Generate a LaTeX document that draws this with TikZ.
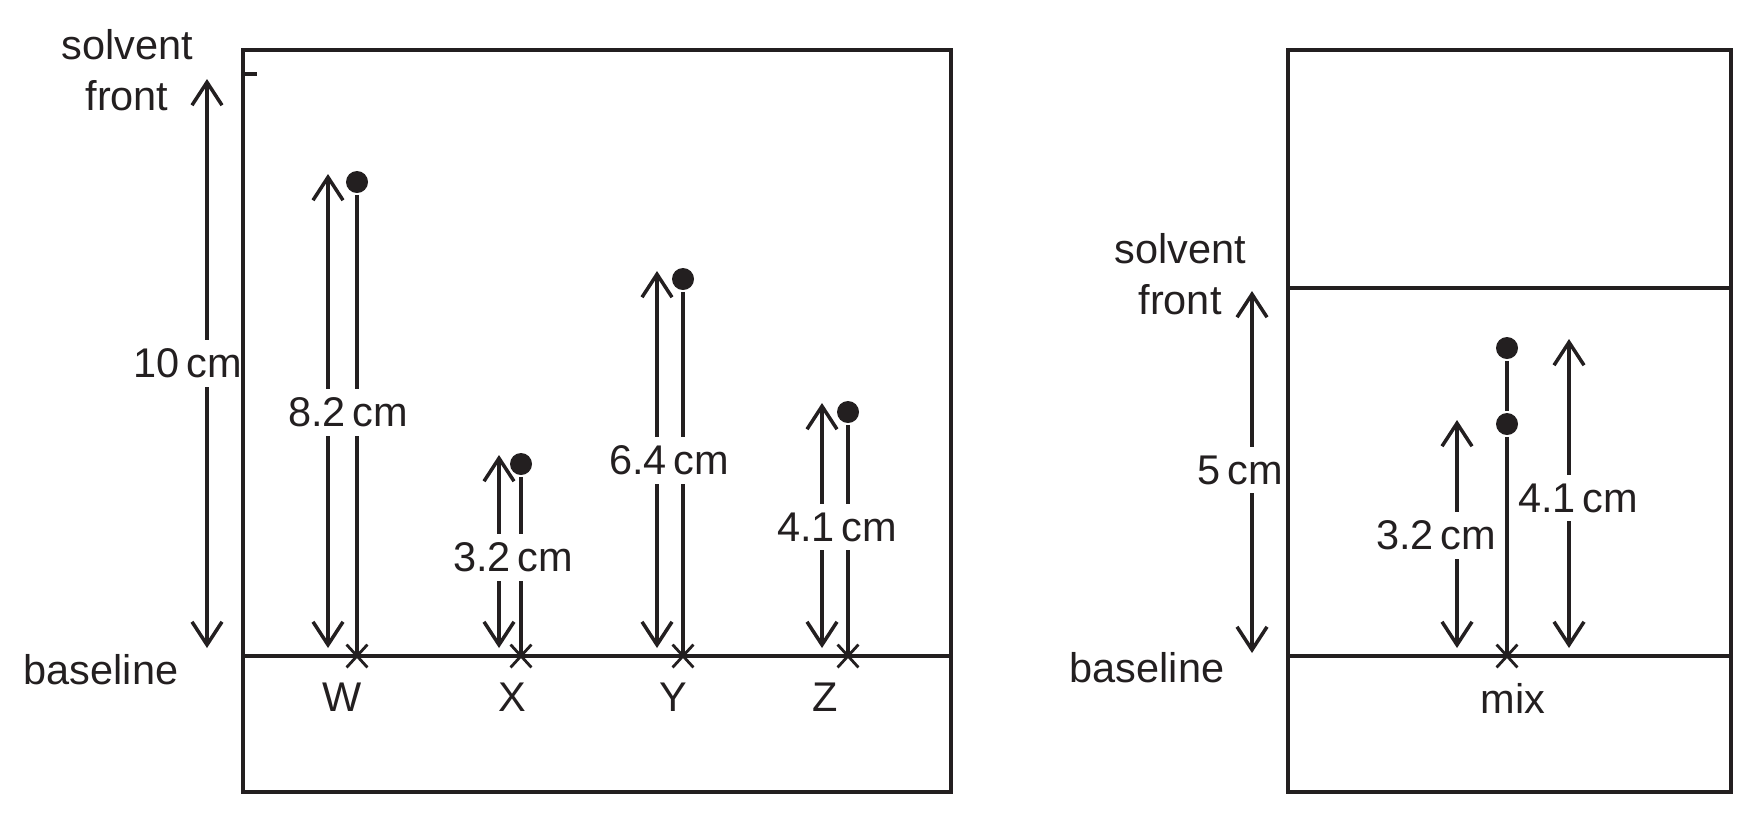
\documentclass[tikz,border=0pt]{standalone}
\usepackage{fontspec}
\setmainfont{Liberation Sans}
\usetikzlibrary{positioning,shapes.misc,arrows.meta}
\definecolor{ink}{RGB}{35,31,32}

\begin{document}
\begin{tikzpicture}[x=0.01cm,y=-0.01cm,line width=1pt,color=ink,
    every node/.style={font=\fontsize{11.8}{14.5}\selectfont},
    spot/.style={circle,fill=ink,inner sep=0pt,minimum size=2.2mm},
    origin/.style={cross out,draw,inner sep=0pt,minimum width=1.8mm,minimum height=2mm,line width=0.8pt},
    dist/.style={{Straight Barb[length=2.3mm,width=3mm]}-{Straight Barb[length=2.3mm,width=3mm]}},
    plate/.style={line width=1.15pt},
    dimlabel/.style={fill=white,inner xsep=1pt,inner ysep=2.5pt}]
      \useasboundingbox (0,0) rectangle (1758,817);

      % Define the plates
      \coordinate (plA) at (243,50);
      \coordinate (plB) at (951,792);
      \coordinate (mpA) at (1288,50);
      \coordinate (mpB) at (1731,792);

      % Define the spots and origins on the first plate
      \node[spot] (w) at (357,182) {};
      \node[spot] (x) at (521,464) {};
      \node[spot] (y) at (683,279) {};
      \node[spot] (z) at (848,412) {};
      \node[origin] (w0) at (357,656) {};
      \node[origin] (x0) at (521,656) {};
      \node[origin] (y0) at (683,656) {};
      \node[origin] (z0) at (848,656) {};

      % Draw the spot tracks
      \draw (w) -- (w0.center);
      \draw (x) -- (x0.center);
      \draw (y) -- (y0.center);
      \draw (z) -- (z0.center);

      % Draw the distance arrows
      \coordinate (fT) at (207,79);   \coordinate (fB) at (207,648);
      \coordinate (wT) at (328,174);  \coordinate (wB) at (328,648);
      \coordinate (xT) at (499,455);  \coordinate (xB) at (499,648);
      \coordinate (yT) at (657,271);  \coordinate (yB) at (657,648);
      \coordinate (zT) at (822,403);  \coordinate (zB) at (822,648);
      \draw[dist] (fT) -- (fB);
      \draw[dist] (wT) -- (wB);
      \draw[dist] (xT) -- (xB);
      \draw[dist] (yT) -- (yB);
      \draw[dist] (zT) -- (zB);

      \node[dimlabel] (fL) at (188,363) {10\,cm};
      \node[dimlabel] (wL) at (348,412) {8.2\,cm};
      \node[dimlabel] (xL) at (513,557) {3.2\,cm};
      \node[dimlabel] (yL) at (669,460) {6.4\,cm};
      \node[dimlabel] (zL) at (837,527) {4.1\,cm};

      % Draw the first plate
      \draw[plate] (plA) rectangle (plB);
      \draw[plate] (243,656) -- (951,656);
      \draw[plate] (243,74) -- (257,74);

      \node[align=center] (front) at (127,70) {solvent\\front};
      \node (base) at (101,670) {baseline};
      \node (wn) at (342,697) {W};
      \node (xn) at (512,697) {X};
      \node (yn) at (673,697) {Y};
      \node (zn) at (825,697) {Z};

      % Define the spots on the second plate
      \node[spot] (m1) at (1507,348) {};
      \node[spot] (m2) at (1507,424) {};
      \node[origin] (m0) at (1507,656) {};
      \draw (m1) -- (m2);
      \draw (m2) -- (m0.center);

      \coordinate (gT) at (1252,291);  \coordinate (gB) at (1252,653);
      \coordinate (aT) at (1457,420);  \coordinate (aB) at (1457,648);
      \coordinate (bT) at (1569,339);  \coordinate (bB) at (1569,648);
      \draw[dist] (gT) -- (gB);
      \draw[dist] (aT) -- (aB);
      \draw[dist] (bT) -- (bB);

      \node[dimlabel] (gL) at (1240,470) {5\,cm};
      \node[dimlabel] (aL) at (1436,535) {3.2\,cm};
      \node[dimlabel] (bL) at (1578,498) {4.1\,cm};

      % Draw the second plate
      \draw[plate] (mpA) rectangle (mpB);
      \draw[plate] (1288,288) -- (1731,288);
      \draw[plate] (1288,656) -- (1731,656);

      \node[align=center] (mfront) at (1180,274) {solvent\\front};
      \node (mbase) at (1147,668) {baseline};
      \node (mix) at (1513,698) {mix};
\end{tikzpicture}
\end{document}
